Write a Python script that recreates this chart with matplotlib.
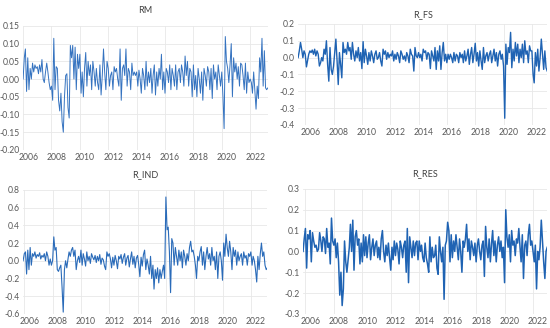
import matplotlib
matplotlib.use("Agg")
import matplotlib.pyplot as plt
import matplotlib.dates as mdates
import matplotlib.transforms as mtransforms
import pandas as pd

# monthly returns
rm = [
    0.00, 0.06, 0.085, -0.035, 0.06, -0.03, 0.03, 0.00, 0.045, 0.02, 0.04, 0.03,      # 2006
    0.035, 0.015, 0.04, 0.02, 0.055, 0.00, -0.01, 0.02, 0.045, 0.02, -0.01, -0.03,    # 2007
    -0.02, -0.06, 0.115, -0.03, 0.035, 0.03, -0.06, -0.09, -0.04, -0.12, -0.15, -0.05,  # 2008
    0.01, 0.015, -0.08, -0.11, 0.095, 0.06, 0.095, 0.00, 0.09, -0.03, 0.07, 0.03,     # 2009
    0.07, -0.04, 0.02, -0.05, 0.03, 0.075, -0.02, 0.05, 0.01, 0.04, -0.03, 0.05,      # 2010
    0.02, -0.02, 0.03, -0.01, -0.03, 0.04, -0.045, 0.01, 0.085, 0.02, -0.03, 0.05,    # 2011
    0.03, -0.02, 0.01, 0.02, -0.03, 0.035, 0.02, 0.03, 0.00, -0.02, 0.085, -0.06,     # 2012
    0.03, 0.04, 0.01, 0.085, -0.02, 0.03, 0.02, -0.03, 0.045, 0.01, 0.02, 0.01,       # 2013
    0.02, -0.02, 0.025, 0.00, -0.04, 0.03, 0.01, -0.03, 0.05, -0.02, 0.02, -0.01,     # 2014
    0.03, -0.04, 0.01, 0.04, -0.045, 0.02, -0.02, 0.03, 0.00, 0.07, -0.03, 0.02,      # 2015
    -0.04, 0.03, 0.02, -0.01, 0.04, -0.03, 0.03, 0.01, -0.02, 0.04, -0.03, 0.02,      # 2016
    0.03, -0.01, 0.04, 0.02, -0.02, 0.065, 0.01, 0.05, -0.02, 0.03, 0.02, -0.05,      # 2017
    0.04, -0.03, 0.01, -0.05, 0.03, 0.00, -0.04, 0.02, -0.06, 0.03, 0.01, -0.02,      # 2018
    0.035, 0.02, -0.03, 0.03, -0.055, 0.04, 0.00, 0.02, -0.03, 0.04, 0.01, -0.02,     # 2019
    0.02, -0.05, -0.14, 0.12, 0.05, 0.03, -0.01, 0.04, 0.10, -0.05, 0.06, 0.02,       # 2020
    0.045, 0.00, 0.035, -0.02, 0.045, 0.04, 0.01, -0.03, 0.045, -0.04, 0.02, -0.01,   # 2021
    0.00, -0.01, -0.04, 0.02, -0.03, -0.085, -0.02, -0.055, 0.06, 0.02, 0.115, -0.02,  # 2022
    0.08, -0.025, -0.03, -0.025,                                                      # 2023
]
rm_start = "2006-01-01"

r_fs = [
    0.00, 0.04, 0.09, 0.05, 0.00, 0.04,                                               # 2005 H2
    0.02, -0.055, -0.02, 0.02, 0.04, 0.03, 0.045, 0.02, 0.05, 0.01, 0.04, 0.02,       # 2006
    -0.05, -0.03, 0.00, -0.02, 0.05, 0.02, 0.10, -0.04, -0.14, 0.06, -0.07, -0.10,    # 2007
    -0.05, 0.03, 0.11, -0.02, -0.16, 0.03, -0.04, -0.12, 0.09, 0.03, 0.05, 0.02,      # 2008
    0.09, 0.04, 0.06, -0.01, 0.09, 0.02, -0.02, 0.04, 0.00, 0.06, -0.02, 0.03,        # 2009
    -0.065, 0.095, -0.03, 0.05, 0.01, -0.04, 0.03, -0.02, 0.04, 0.01, -0.03, 0.02,    # 2010
    0.04, -0.01, 0.00, 0.03, -0.02, -0.05, 0.05, 0.02, 0.04, -0.01, 0.03, 0.00,       # 2011
    0.02, 0.01, 0.04, -0.02, 0.02, -0.01, 0.03, 0.01, -0.03, 0.04, 0.02, -0.01,       # 2012
    0.01, -0.02, 0.03, 0.01, -0.03, 0.05, 0.02, 0.01, -0.08, 0.06, 0.01, 0.00,        # 2013
    0.03, 0.00, 0.02, -0.02, 0.05, 0.03, 0.04, -0.01, 0.03, 0.02, -0.065, 0.04,       # 2014
    0.01, -0.02, 0.06, -0.07, 0.04, -0.02, 0.07, -0.07, 0.03, 0.09, -0.02, 0.02,      # 2015
    -0.03, 0.02, -0.01, 0.02, 0.00, -0.03, 0.03, -0.02, 0.02, 0.01, -0.03, 0.03,      # 2016
    0.00, 0.02, -0.03, 0.04, -0.02, 0.01, 0.05, -0.04, 0.02, 0.06, -0.03, 0.02,       # 2017
    0.085, -0.02, 0.03, -0.05, 0.04, -0.02, -0.07, 0.06, -0.03, 0.01, 0.03, -0.02,    # 2018
    0.02, 0.04, -0.03, 0.01, 0.05, -0.02, 0.03, -0.05, 0.02, 0.04, -0.01, 0.02,       # 2019
    -0.05, -0.36, 0.08, -0.04, 0.06, 0.03, 0.15, -0.06, 0.05, -0.02, 0.09, 0.01,      # 2020
    0.08, -0.03, 0.05, 0.00, 0.08, -0.03, 0.10, 0.02, 0.04, -0.03, 0.07, 0.04,        # 2021
    0.04, -0.10, -0.15, 0.03, -0.05, 0.05, -0.08, 0.00, 0.11, 0.02, -0.07, 0.04,      # 2022
    -0.06, -0.08,                                                                     # 2023
]
r_fs_start = "2005-07-01"

r_ind = [
    0.00,                                                                             # 2005
    0.08, 0.10, -0.15, 0.12, -0.10, 0.15, -0.05, 0.08, 0.05, 0.10, 0.03, 0.07,        # 2006
    0.05, 0.09, 0.02, 0.06, 0.04, 0.08, 0.00, 0.10, 0.05, -0.05, 0.02, -0.05,         # 2007
    0.00, 0.27, 0.12, 0.15, -0.10, -0.12, -0.08, -0.05, -0.30, -0.58, -0.10, 0.00,    # 2008
    -0.08, 0.02, 0.10, 0.05, 0.12, 0.15, 0.05, 0.12, -0.10, 0.00, 0.05, -0.02,        # 2009
    0.12, -0.05, 0.08, 0.02, -0.06, 0.10, 0.00, 0.05, -0.03, 0.08, 0.04, 0.01,        # 2010
    0.06, -0.02, 0.05, 0.00, 0.07, -0.04, 0.03, 0.01, -0.06, -0.10, 0.10, 0.05,       # 2011
    0.08, 0.02, -0.08, 0.04, -0.05, 0.06, 0.00, -0.09, 0.05, 0.02, 0.07, -0.03,       # 2012
    0.04, 0.08, -0.05, 0.03, 0.06, -0.07, 0.02, 0.10, -0.04, 0.05, -0.08, 0.03,       # 2013
    0.06, -0.05, -0.18, 0.04, -0.06, 0.07, 0.12, -0.10, 0.02, -0.05, -0.15, 0.05,     # 2014
    -0.20, -0.05, -0.32, -0.10, -0.20, -0.08, -0.25, -0.10, -0.20, -0.12, -0.05, -0.20,  # 2015
    0.72, 0.35, 0.38, 0.10, -0.36, 0.25, 0.20, -0.05, 0.15, 0.05, -0.05, 0.12,        # 2016
    0.00, 0.10, -0.08, 0.12, 0.05, -0.05, 0.08, 0.00, 0.15, 0.22, 0.10, 0.12,         # 2017
    0.05, -0.05, -0.20, 0.05, 0.00, 0.10, 0.16, -0.05, 0.10, -0.10, 0.05, 0.15,       # 2018
    0.02, 0.08, -0.05, 0.15, 0.00, 0.05, -0.10, 0.10, -0.20, 0.05, 0.10, 0.00,        # 2019
    -0.22, 0.20, 0.05, 0.30, 0.15, 0.05, 0.22, 0.10, -0.10, 0.15, 0.05, 0.12,         # 2020
    -0.05, 0.10, 0.00, 0.05, 0.08, -0.05, 0.10, 0.03, 0.06, -0.05, 0.08, 0.05,        # 2021
    0.10, -0.05, 0.05, 0.00, -0.10, -0.24, 0.05, -0.10, 0.08, 0.20, 0.05, 0.10,       # 2022
    -0.05, -0.10, -0.08,                                                              # 2023
]
r_ind_start = "2005-12-01"

r_res = [
    0.00, 0.06,                                                                       # 2005
    0.11, -0.08, 0.08, 0.06, 0.10, -0.05, 0.09, 0.05, 0.02, 0.03, 0.00, 0.01,         # 2006
    0.09, 0.05, 0.00, 0.07, 0.06, -0.01, 0.11, 0.02, 0.04, -0.06, 0.16, 0.05,         # 2007
    0.03, 0.06, -0.03, 0.04, -0.05, -0.21, -0.10, -0.26, -0.18, 0.05, -0.05, -0.10,   # 2008
    -0.04, 0.02, 0.13, 0.00, 0.15, -0.09, 0.07, 0.10, 0.03, 0.06, -0.06, 0.04,        # 2009
    -0.05, 0.08, -0.02, 0.07, -0.03, 0.04, 0.08, -0.04, 0.02, 0.06, -0.02, 0.03,      # 2010
    0.05, -0.03, 0.02, -0.04, 0.06, 0.10, 0.00, -0.05, 0.03, -0.02, 0.04, -0.03,      # 2011
    -0.09, 0.02, -0.04, 0.05, -0.02, 0.04, 0.01, -0.06, 0.05, 0.02, -0.03, 0.03,      # 2012
    0.05, -0.10, 0.11, -0.15, 0.07, 0.02, -0.03, 0.05, -0.02, 0.04, 0.05, -0.04,      # 2013
    0.05, 0.00, 0.03, -0.03, -0.05, 0.04, -0.03, -0.06, -0.10, 0.07, -0.05, 0.02,     # 2014
    -0.03, -0.02, 0.03, -0.08, -0.11, 0.07, 0.00, -0.05, 0.02, -0.23, 0.03, 0.05,     # 2015
    0.14, 0.10, -0.05, 0.08, -0.03, 0.05, 0.00, 0.08, 0.02, -0.04, 0.06, 0.00,        # 2016
    -0.10, 0.05, 0.02, 0.06, 0.13, 0.00, 0.06, -0.04, 0.05, 0.02, -0.02, 0.04,        # 2017
    -0.05, 0.03, 0.06, 0.00, -0.04, 0.03, 0.05, -0.12, 0.12, 0.02, -0.03, 0.06,       # 2018
    -0.05, 0.04, 0.10, -0.02, 0.05, -0.05, 0.03, 0.07, 0.00, 0.05, -0.03, 0.02,       # 2019
    -0.15, 0.20, 0.07, 0.02, 0.08, -0.05, 0.10, 0.03, 0.05, -0.02, 0.06, 0.04,        # 2020
    0.11, 0.02, -0.05, 0.08, -0.13, 0.03, 0.05, -0.02, 0.08, 0.13, 0.03, 0.05,        # 2021
    0.00, -0.05, 0.03, -0.18, 0.00, -0.04, 0.02, 0.15, 0.05, -0.05, -0.13, 0.00,      # 2022
    0.02,                                                                             # 2023
]
r_res_start = "2005-11-01"

panels = [
    ("RM", rm, rm_start, [-0.20, -0.15, -0.10, -0.05, 0.00, 0.05, 0.10, 0.15], "%.2f"),
    ("R_FS", r_fs, r_fs_start, [-0.4, -0.3, -0.2, -0.1, 0.0, 0.1, 0.2], "%.1f"),
    ("R_IND", r_ind, r_ind_start, [-0.6, -0.4, -0.2, 0.0, 0.2, 0.4, 0.6, 0.8], "%.1f"),
    ("R_RES", r_res, r_res_start, [-0.3, -0.2, -0.1, 0.0, 0.1, 0.2, 0.3], "%.1f"),
]

# axes boxes in figure fractions (left, bottom, width, height)
boxes = [
    [0.042, 0.543, 0.445, 0.378],
    [0.542, 0.619, 0.453, 0.308],
    [0.042, 0.043, 0.444, 0.378],
    [0.551, 0.043, 0.444, 0.381],
]
widths = [0.7, 1.0, 0.8, 1.1]
colors = ["#3573c0", "#1f63b3", "#2a6bb9", "#1f63b3"]
title_pads = [9, 5, 9, 9]

plt.rcParams["font.family"] = ["Lato", "DejaVu Sans"]
plt.rcParams["axes.unicode_minus"] = False

fig = plt.figure(figsize=(5.5, 3.28), dpi=100)
shift = mtransforms.ScaledTranslation(0.05, 0, fig.dpi_scale_trans)

for (name, vals, start, yticks, fmt), box, lw, c, tp in zip(panels, boxes, widths, colors, title_pads):
    ax = fig.add_axes(box)
    dates = pd.date_range(start, periods=len(vals), freq="MS")
    ax.plot(dates, vals, color=c, lw=lw)
    ax.set_xlim(dates[0], dates[-1])
    ax.set_ylim(yticks[0], yticks[-1])
    ax.set_yticks(yticks)
    ax.yaxis.set_major_formatter(matplotlib.ticker.FormatStrFormatter(fmt))
    ax.xaxis.set_major_locator(mdates.YearLocator(2))
    ax.xaxis.set_major_formatter(mdates.DateFormatter("%Y"))
    ax.grid(True, color="#e8e8e8", lw=0.6)
    ax.set_axisbelow(True)
    for s in ax.spines.values():
        s.set_visible(False)
    ax.tick_params(length=0, labelsize=6.2, colors="#595959", pad=2.5)
    for lab in ax.get_xticklabels():
        lab.set_transform(lab.get_transform() + shift)
    ax.set_title(name, fontsize=6.5, color="#404040", pad=tp)

fig.savefig("out.png", dpi=100)
